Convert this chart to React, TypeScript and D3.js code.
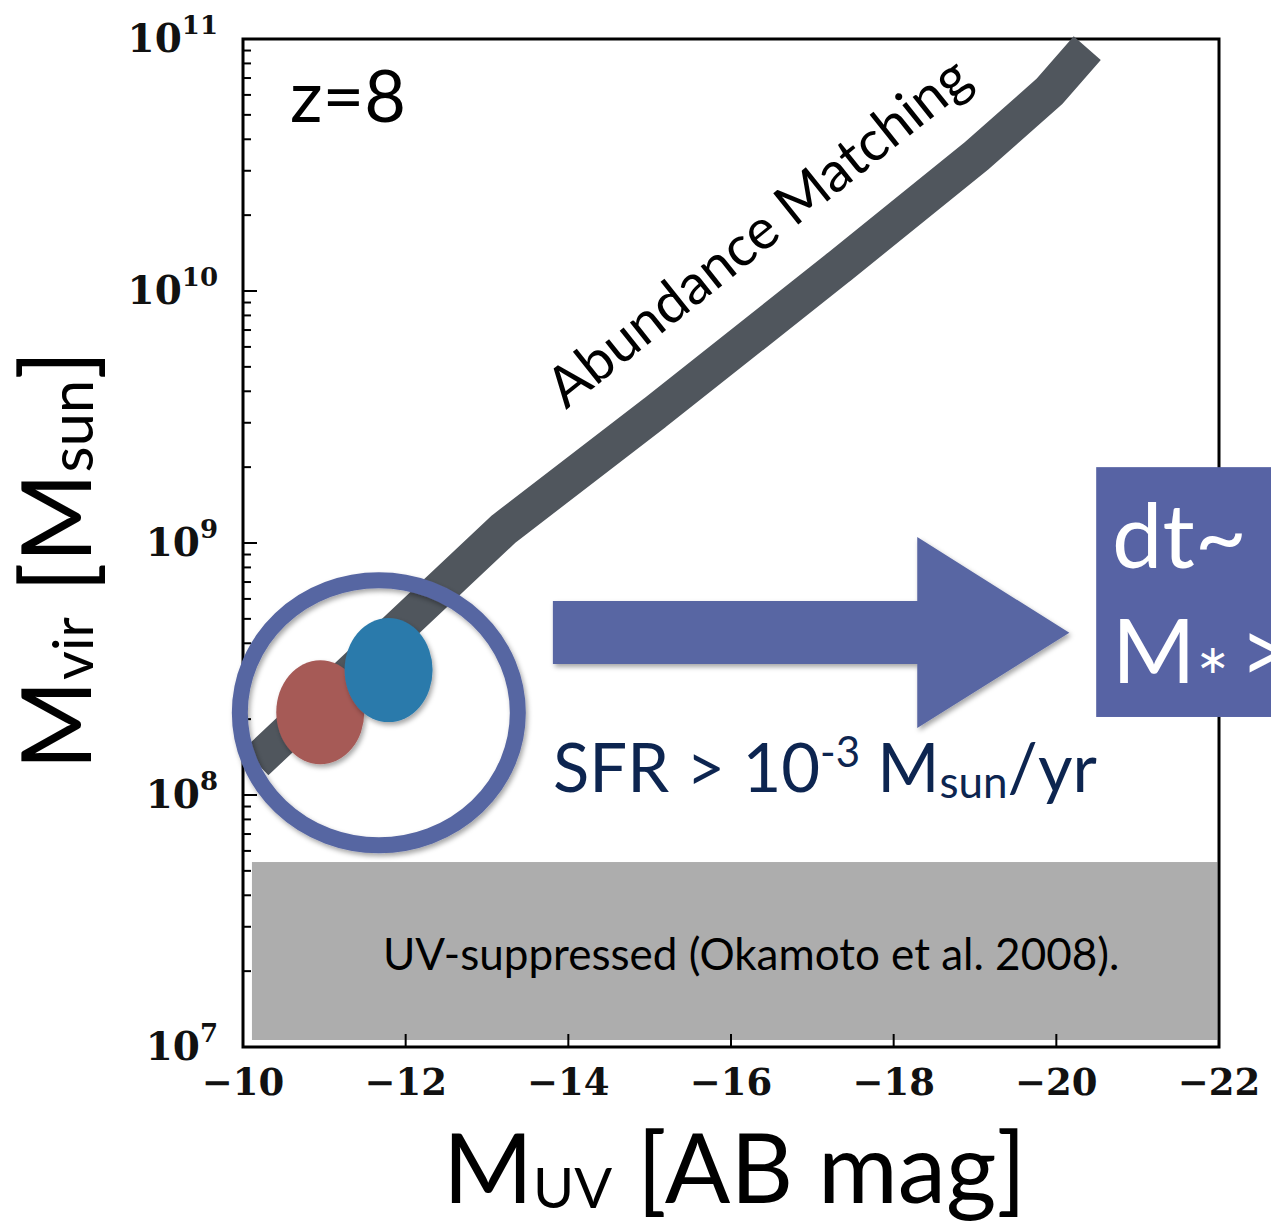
import React from "react";
import * as d3 from "d3";

// ---- data ----
const AM_MUV = [-10.16, -13.21, -15.06, -17.32, -19.02, -19.91, -20.38];
const AM_MVIR = [1.35e8, 1.14e9, 3.28e9, 1.24e10, 3.44e10, 6.17e10, 9.2e10];
const GAL_MUV = [-10.95, -11.79];
const GAL_MVIR = [2.13e8, 3.13e8];
const GAL_COLORS = ["#a65a57", "#2b7aab"];
const RING_CENTER = [-11.67, 2.12e8];
const UV_SUPPRESS_MVIR = 5.42e7;
const X_TICKS = [-10, -12, -14, -16, -18, -20, -22];
const Y_DECADES = [7, 8, 9, 10, 11];
const ARROW_MUV = [-13.81, -18.29, -20.16];
const ARROW_MVIR = [3.31e8, 5.89e8, 1.845e8, 1.057e9, 4.4e8];
const BOX_MUV = -20.49;
const BOX_MVIR = [2.0e9, 2.04e8];

const W = 1271;
const H = 1224;
const L = 243, R = 1219, T = 39, B = 1047;

export default function App() {
  const x = d3.scaleLinear().domain([-10, -22]).range([L, R]);
  const y = d3.scaleLog().domain([1e7, 1e11]).range([B, T]);

  const amData = AM_MUV.map((m, i) => [m, AM_MVIR[i]] as [number, number]);
  const line = d3
    .line<[number, number]>()
    .x((d) => x(d[0]))
    .y((d) => y(d[1]));

  const minor: number[] = [];
  for (let e = 7; e < 11; e++) for (let k = 2; k <= 9; k++) minor.push(k * Math.pow(10, e));

  const serif = "'DejaVu Serif', serif";
  const sans = "Lato, 'Open Sans', sans-serif";

  const ax0 = x(ARROW_MUV[0]), ax1 = x(ARROW_MUV[1]), axTip = x(ARROW_MUV[2]);
  const ayBot = y(ARROW_MVIR[0]), ayTop = y(ARROW_MVIR[1]);
  const ahBot = y(ARROW_MVIR[2]), ahTop = y(ARROW_MVIR[3]), ahMid = y(ARROW_MVIR[4]);
  const arrowPath = `M${ax0},${ayTop} L${ax1},${ayTop} L${ax1},${ahTop} L${axTip},${ahMid} L${ax1},${ahBot} L${ax1},${ayBot} L${ax0},${ayBot} Z`;

  return (
    <svg width={W} height={H} style={{ position: "absolute", left: 0, top: 0, background: "#fff" }}>
      <defs>
        <filter id="sh" x="-20%" y="-20%" width="140%" height="140%">
          <feDropShadow dx="2" dy="3" stdDeviation="2.5" floodColor="#000" floodOpacity="0.35" />
        </filter>
        <clipPath id="page">
          <rect x="0" y="0" width={W} height={H} />
        </clipPath>
      </defs>

      {/* UV suppressed region */}
      <rect
        x={x(-10.11)}
        y={y(UV_SUPPRESS_MVIR)}
        width={x(-21.98) - x(-10.11)}
        height={B - 7 - y(UV_SUPPRESS_MVIR)}
        fill="#adadad"
      />
      <text x={383} y={970} fontFamily={sans} fontSize={44} fill="#000">
        UV-suppressed (Okamoto et al. 2008).
      </text>

      {/* frame */}
      <rect x={L} y={T} width={R - L} height={B - T} fill="none" stroke="#000" strokeWidth={3} />
      {X_TICKS.map((t) => (
        <line key={"xt" + t} x1={x(t)} x2={x(t)} y1={B} y2={B - 13} stroke="#000" strokeWidth={2} />
      ))}
      {X_TICKS.map((t) => (
        <text
          key={"xl" + t}
          x={x(t)}
          y={1095}
          textAnchor="middle"
          fontFamily={serif}
          fontWeight="bold"
          fontSize={37}
          fill="#111"
        >
          {"\u2212" + Math.abs(t)}
        </text>
      ))}
      {Y_DECADES.map((e) => (
        <line key={"yt" + e} x1={L} x2={L + 14} y1={y(Math.pow(10, e))} y2={y(Math.pow(10, e))} stroke="#000" strokeWidth={2} />
      ))}
      {minor.map((v, i) => (
        <line key={"ym" + i} x1={L} x2={L + 8} y1={y(v)} y2={y(v)} stroke="#000" strokeWidth={2} />
      ))}
      {Y_DECADES.map((e) => (
        <text
          key={"yl" + e}
          x={218}
          y={y(Math.pow(10, e)) + 13}
          textAnchor="end"
          fontFamily={serif}
          fontWeight="bold"
          fontSize={39}
          fill="#111"
        >
          10
          <tspan fontSize={26} dy={-18}>
            {e}
          </tspan>
        </text>
      ))}

      {/* abundance matching band */}
      <path
        d={line(amData) || ""}
        fill="none"
        stroke="#50565d"
        strokeWidth={36}
        strokeLinejoin="bevel"
        strokeLinecap="butt"
      />
      <text
        transform="translate(566,410) rotate(-38.6)"
        fontFamily={sans}
        fontSize={56}
        fill="#000"
      >
        Abundance Matching
      </text>

      {/* galaxies */}
      {GAL_MUV.map((m, i) => (
        <ellipse
          key={"g" + i}
          cx={x(m)}
          cy={y(GAL_MVIR[i])}
          rx={44}
          ry={52}
          fill={GAL_COLORS[i]}
          filter="url(#sh)"
        />
      ))}

      {/* ring */}
      <ellipse
        cx={x(RING_CENTER[0])}
        cy={y(RING_CENTER[1])}
        rx={139}
        ry={132.5}
        fill="none"
        stroke="#5766a2"
        strokeWidth={16}
        filter="url(#sh)"
      />

      {/* arrow */}
      <path d={arrowPath} fill="#5866a3" filter="url(#sh)" />

      {/* SFR text */}
      <text x={553} y={792} fontFamily={sans} fontSize={67} fill="#0d2550">
        SFR &gt; 10
        <tspan fontSize={42} dy={-25}>-3</tspan>
        <tspan dy={25}> M</tspan>
        <tspan fontSize={44} dy={6}>sun</tspan>
        <tspan dy={-6}>/yr</tspan>
      </text>

      {/* z label */}
      <text x={290} y={122} fontFamily={sans} fontSize={72} fill="#000">
        z=8
      </text>

      {/* blue box */}
      <g clipPath="url(#page)">
        <rect
          x={x(BOX_MUV)}
          y={y(BOX_MVIR[0])}
          width={W - x(BOX_MUV) + 20}
          height={y(BOX_MVIR[1]) - y(BOX_MVIR[0])}
          fill="#5763a4"
        />
        <text x={1112} y={568} fontFamily={sans} fontSize={90} fill="#fff">
          dt~ 1
        </text>
        <text x={1112} y={683} fontFamily={sans} fontSize={90} fill="#fff">
          M<tspan fontSize={40} dy={-10}>{"\u2217"}</tspan>
          <tspan dy={10} dx={10}>&gt;</tspan>
        </text>
      </g>

      {/* axis labels */}
      <text x={443} y={1203} fontFamily={sans} fontSize={97} fill="#000">
        M<tspan fontSize={56} dy={5}>UV</tspan>
        <tspan dy={-5}> [AB mag]</tspan>
      </text>
      <text transform="translate(91,770) rotate(-90)" fontFamily={sans} fontSize={97} fill="#000">
        M<tspan fontSize={56} dy={2}>vir</tspan>
        <tspan dy={-2}>  [M</tspan>
        <tspan fontSize={60} dy={2}>sun</tspan>
        <tspan dy={-2}>]</tspan>
      </text>
    </svg>
  );
}
